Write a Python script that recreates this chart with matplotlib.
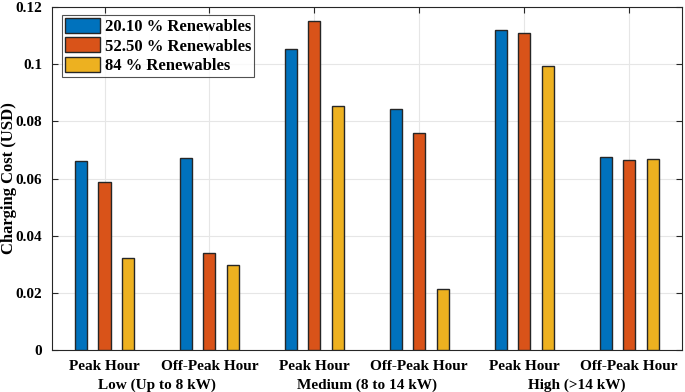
import numpy as np
import matplotlib.pyplot as plt

plt.rcParams['font.family'] = ['Liberation Serif', 'DejaVu Serif']
plt.rcParams['font.weight'] = 'bold'

hours = ["Peak Hour", "Off-Peak Hour"] * 3
groups = ["Low (Up to 8 kW)", "Medium (8 to 14 kW)", "High (>14 kW)"]
series = ["20.10 % Renewables", "52.50 % Renewables", "84 % Renewables"]
ren_20 = [0.0662, 0.0673, 0.1055, 0.0842, 0.1120, 0.0675]
ren_52 = [0.0587, 0.0338, 0.1152, 0.0759, 0.1108, 0.0665]
ren_84 = [0.0321, 0.0298, 0.0854, 0.0212, 0.0994, 0.0668]
colors = ["#0072BD", "#D95319", "#EDB120"]

fig = plt.figure(figsize=(6.85, 3.92), dpi=100)
ax = fig.add_axes([0.076, 0.107, 0.919, 0.875])

x = np.arange(1, 7)
offs = [-0.224, 0, 0.224]
for vals, off, c, lab in zip([ren_20, ren_52, ren_84], offs, colors, series):
    ax.bar(x + off, vals, width=0.115, color=c, edgecolor="#262626", linewidth=1.0,
           label=lab, zorder=3)

ax.set_xlim(0.5, 6.5)
ax.set_ylim(0, 0.12)
ax.set_yticks([0, 0.02, 0.04, 0.06, 0.08, 0.1, 0.12])
ax.set_yticklabels(["0", "0.02", "0.04", "0.06", "0.08", "0.1", "0.12"])
ax.set_xticks(x)
ax.set_xticklabels(hours, fontsize=11)
ax.tick_params(axis="y", labelsize=11)
ax.tick_params(direction="in", top=True, right=True, length=4,
               color="#262626", pad=7)
ax.grid(True, color="#e6e6e6", linewidth=0.8, zorder=0)
for s in ax.spines.values():
    s.set_color("#262626")
    s.set_linewidth(0.8)

for i, g in enumerate(groups):
    ax.text(1.5 + 2 * i, -0.0098, g, ha="center", va="top", fontsize=11,
            fontweight="bold", transform=ax.transData)

ax.set_ylabel("Charging Cost (USD)", fontsize=12, fontweight="bold")
ax.yaxis.set_label_coords(-0.056, 0.5)

leg = ax.legend(loc="upper left", fontsize=12, frameon=True, fancybox=False,
                edgecolor="#262626", handlelength=2.1, handleheight=1.0,
                handletextpad=0.25, borderpad=0.2, labelspacing=0.12,
                borderaxespad=0, bbox_to_anchor=(0.016, 0.977))
leg.get_frame().set_linewidth(0.8)

fig.savefig("out.png", dpi=100)
